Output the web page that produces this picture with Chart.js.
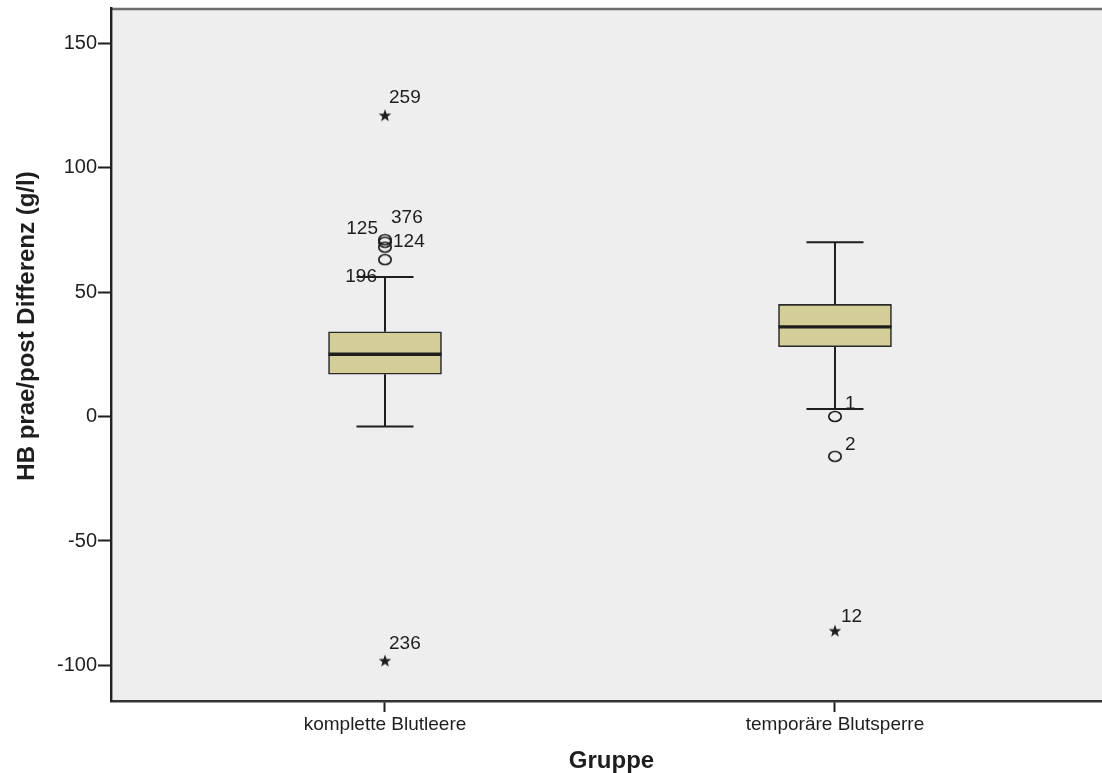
<!DOCTYPE html>
<html>
<head>
<meta charset="utf-8">
<script src="https://cdn.jsdelivr.net/npm/chart.js@4.4.1/dist/chart.umd.min.js"></script>
<style>
  html, body { margin: 0; padding: 0; background: #ffffff; overflow: hidden; }
  #wrap { width: 1102px; height: 773px; position: relative; overflow: hidden; }
  #chart { display: block; }
</style>
</head>
<body>
<div id="wrap"><canvas id="chart" width="1112" height="773"></canvas></div>
<script>
// Groups and five-number summaries of HB difference (g/l)
const groups = ['komplette Blutleere', 'temporäre Blutsperre'];
const groupPos = [1, 2];
const q1 = [17, 28];
const medians = [25, 36];
const q3 = [34, 45];
const whiskerLow = [-4, 3];
const whiskerHigh = [56, 70];

// Outliers (circles) and extreme values (stars), with case numbers
const outlierGroup = [0, 0, 0, 0, 1, 1];
const outlierValue = [71, 70, 68, 63, 0, -16];
const outlierCase = ['125', '376', '124', '196', '1', '2'];
const extremeGroup = [0, 0, 1];
const extremeValue = [121, -98, -86];
const extremeCase = ['259', '236', '12'];

const yTicks = [-100, -50, 0, 50, 100, 150];
const yTitle = 'HB prae/post Differenz (g/l)';

// Case-label placement relative to the marker (pixels) and alignment
const outlierLabelLayout = [
  { dx: -7, dy: -11, align: 'right' },
  { dx: 6, dy: -24, align: 'left' },
  { dx: 8, dy: -5, align: 'left' },
  { dx: -8, dy: 17, align: 'right' },
  { dx: 10, dy: -13, align: 'left' },
  { dx: 10, dy: -12, align: 'left' }
];
const extremeLabelLayout = [
  { dx: 4, dy: -17, align: 'left' },
  { dx: 4, dy: -17, align: 'left' },
  { dx: 6, dy: -14, align: 'left' }
];

const INK = '#1e1e1e';
const FONT = "'Liberation Sans', Arial, sans-serif";

// Marker images: open ellipse for outliers, filled five-point star for extremes
function ringImage() {
  const c = document.createElement('canvas');
  c.width = 16; c.height = 13;
  const g = c.getContext('2d');
  g.strokeStyle = INK;
  g.lineWidth = 1.7;
  g.beginPath();
  g.ellipse(8, 6.5, 6.2, 5, 0, 0, Math.PI * 2);
  g.stroke();
  return c;
}
function starImage() {
  const c = document.createElement('canvas');
  c.width = 14; c.height = 14;
  const g = c.getContext('2d');
  g.fillStyle = INK;
  g.beginPath();
  for (let i = 0; i < 10; i++) {
    const r = i % 2 === 0 ? 6.6 : 2.7;
    const a = -Math.PI / 2 + i * Math.PI / 5;
    const px = 7 + r * Math.cos(a), py = 7.6 + r * Math.sin(a);
    if (i === 0) g.moveTo(px, py); else g.lineTo(px, py);
  }
  g.closePath();
  g.fill();
  return c;
}

// Plot background, top frame line and the vertical axis title
const frame = {
  id: 'frame',
  beforeDraw(chart) {
    const { ctx, chartArea: a } = chart;
    ctx.save();
    ctx.fillStyle = '#eeeeee';
    ctx.fillRect(a.left, a.top, a.right - a.left, a.bottom - a.top);
    ctx.strokeStyle = '#6e6e6e';
    ctx.lineWidth = 2.4;
    ctx.beginPath();
    ctx.moveTo(a.left, a.top + 1);
    ctx.lineTo(a.right, a.top + 1);
    ctx.stroke();
    ctx.restore();
  },
  afterDraw(chart) {
    const { ctx } = chart;
    ctx.save();
    ctx.translate(27, 326);
    ctx.rotate(-Math.PI / 2);
    ctx.fillStyle = INK;
    ctx.font = 'bold 24px ' + FONT;
    ctx.textAlign = 'center';
    ctx.textBaseline = 'middle';
    ctx.fillText(yTitle, 0, 0);
    ctx.restore();
  }
};

// Whiskers, caps, medians and case labels
const boxParts = {
  id: 'boxParts',
  afterDatasetsDraw(chart) {
    const { ctx } = chart;
    const xs = chart.scales.x, ys = chart.scales.y;
    const boxHalf = 56.5, capHalf = 28.5;
    ctx.save();
    ctx.strokeStyle = INK;
    ctx.lineCap = 'butt';
    groups.forEach((g, i) => {
      const cx = xs.getPixelForValue(groupPos[i]);
      const yq1 = ys.getPixelForValue(q1[i]);
      const yq3 = ys.getPixelForValue(q3[i]);
      const ylo = ys.getPixelForValue(whiskerLow[i]);
      const yhi = ys.getPixelForValue(whiskerHigh[i]);
      const ymed = ys.getPixelForValue(medians[i]);
      ctx.lineWidth = 2;
      ctx.beginPath();
      ctx.moveTo(cx, yq3); ctx.lineTo(cx, yhi);
      ctx.moveTo(cx, yq1); ctx.lineTo(cx, ylo);
      ctx.moveTo(cx - capHalf, yhi); ctx.lineTo(cx + capHalf, yhi);
      ctx.moveTo(cx - capHalf, ylo); ctx.lineTo(cx + capHalf, ylo);
      ctx.stroke();
      ctx.lineWidth = 3.4;
      ctx.beginPath();
      ctx.moveTo(cx - boxHalf, ymed); ctx.lineTo(cx + boxHalf, ymed);
      ctx.stroke();
    });
    ctx.fillStyle = INK;
    ctx.font = '19px ' + FONT;
    ctx.textBaseline = 'middle';
    const label = (gi, v, text, lay) => {
      const px = xs.getPixelForValue(groupPos[gi]);
      const py = ys.getPixelForValue(v);
      ctx.textAlign = lay.align;
      ctx.fillText(text, px + lay.dx, py + lay.dy);
    };
    outlierValue.forEach((v, k) => label(outlierGroup[k], v, outlierCase[k], outlierLabelLayout[k]));
    extremeValue.forEach((v, k) => label(extremeGroup[k], v, extremeCase[k], extremeLabelLayout[k]));
    ctx.restore();
  }
};

const ctx = document.getElementById('chart').getContext('2d');
new Chart(ctx, {
  type: 'bar',
  data: {
    datasets: [
      {
        type: 'bar',
        data: groups.map((g, i) => ({ x: groupPos[i], y: [q1[i], q3[i]] })),
        backgroundColor: '#d3ce98',
        borderColor: '#2a2a2a',
        borderWidth: 1.6,
        borderSkipped: false,
        barThickness: 113
      },
      {
        type: 'scatter',
        data: outlierValue.map((v, k) => ({ x: groupPos[outlierGroup[k]], y: v })),
        pointStyle: ringImage(),
        pointRadius: 6
      },
      {
        type: 'scatter',
        data: extremeValue.map((v, k) => ({ x: groupPos[extremeGroup[k]], y: v })),
        pointStyle: starImage(),
        pointRadius: 6
      }
    ]
  },
  options: {
    responsive: false,
    animation: false,
    events: [],
    layout: { autoPadding: false, padding: { top: 8, left: 0, right: 0, bottom: 0 } },
    plugins: { legend: { display: false }, tooltip: { enabled: false } },
    scales: {
      x: {
        type: 'linear',
        offset: false,
        min: 0.3911,
        max: 2.6156,
        afterBuildTicks(scale) { scale.ticks = groupPos.map(v => ({ value: v })); },
        afterFit(scale) {
          scale.height = 72;
          scale.paddingLeft = 0;
          scale.paddingRight = 0;
        },
        ticks: {
          callback: (v) => groups[groupPos.indexOf(v)] || '',
          color: INK,
          font: { family: FONT, size: 19 },
          padding: 1,
          maxRotation: 0,
          autoSkip: false
        },
        grid: { offset: false, drawOnChartArea: false, tickLength: 11, tickWidth: 2, tickColor: INK },
        border: { display: true, color: '#333333', width: 2.4 },
        title: {
          display: true,
          text: 'Gruppe',
          color: INK,
          font: { family: FONT, size: 24, weight: 'bold', lineHeight: 1 },
          padding: { top: 0, bottom: 0 }
        }
      },
      y: {
        type: 'linear',
        min: -114.26,
        max: 164.06,
        afterBuildTicks(scale) { scale.ticks = yTicks.map(v => ({ value: v })); },
        afterFit(scale) {
          scale.width = 111;
          scale.paddingTop = 0;
          scale.paddingBottom = 0;
        },
        ticks: {
          color: INK,
          font: { family: FONT, size: 20 },
          padding: 1
        },
        grid: { drawOnChartArea: false, tickLength: 13, tickWidth: 2, tickColor: INK },
        border: { display: true, color: '#222222', width: 2.4 },
        title: { display: false }
      }
    }
  },
  plugins: [frame, boxParts]
});
</script>
</body>
</html>
